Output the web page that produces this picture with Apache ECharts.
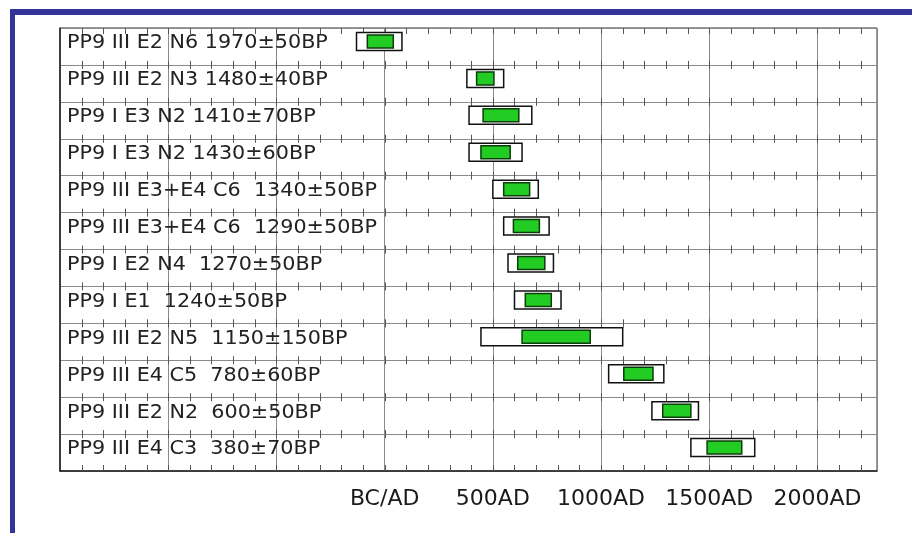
<!DOCTYPE html>
<html>
<head>
<meta charset="utf-8">
<script src="https://cdn.jsdelivr.net/npm/echarts@6/dist/echarts.min.js"></script>
<style>
  html, body { margin: 0; padding: 0; background: #fff; }
  #chart { width: 912px; height: 533px; }
</style>
</head>
<body>
<div id="chart"></div>
<script>
// Sample labels (laboratory context + uncalibrated radiocarbon age)
const samples = [
  'PP9 III E2 N6 1970\u00b150BP',
  'PP9 III E2 N3 1480\u00b140BP',
  'PP9 I E3 N2 1410\u00b170BP',
  'PP9 I E3 N2 1430\u00b160BP',
  'PP9 III E3+E4 C6  1340\u00b150BP',
  'PP9 III E3+E4 C6  1290\u00b150BP',
  'PP9 I E2 N4  1270\u00b150BP',
  'PP9 I E1  1240\u00b150BP',
  'PP9 III E2 N5  1150\u00b1150BP',
  'PP9 III E4 C5  780\u00b160BP',
  'PP9 III E2 N2  600\u00b150BP',
  'PP9 III E4 C3  380\u00b170BP'
];

// Calibrated ranges in calendar years (negative = BC)
const range2Lo = [-130, 380, 390, 390, 500, 550, 570, 600, 445, 1035, 1235, 1415];
const range2Hi = [  80, 550, 680, 635, 710, 760, 780, 815, 1100, 1290, 1450, 1710];
const range1Lo = [ -80, 425, 455, 445, 550, 595, 615, 650, 635, 1105, 1285, 1490];
const range1Hi = [  40, 505, 620, 580, 670, 715, 740, 770, 950, 1240, 1415, 1650];

// Calendar axis
const axisMin = -1500;
const axisMax = 2275;
const majorStep = 500;
const minorStep = 100;

const boxData = samples.map((s, i) => [i, range2Lo[i], range2Hi[i], range1Lo[i], range1Hi[i]]);

function yearLabel(v) {
  if (v === 0) return 'BC/AD';
  if (v > 0 && v % majorStep === 0) return v + 'AD';
  return '';
}

const chart = echarts.init(document.getElementById('chart'), null, { renderer: 'canvas' });

// boxes and labels sit slightly above the middle of each row
const ROW_SHIFT = -5;

chart.setOption({
  animation: false,
  backgroundColor: '#ffffff',
  graphic: [
    { type: 'rect', left: 10, top: 9, shape: { width: 902, height: 6 }, style: { fill: '#333399' }, z: 100 },
    { type: 'rect', left: 10, top: 9, shape: { width: 5, height: 524 }, style: { fill: '#333399' }, z: 100 }
  ],
  grid: {
    left: 60, top: 28, right: 35, bottom: 62,
    show: true, borderColor: '#333', borderWidth: 1
  },
  xAxis: {
    type: 'value',
    min: axisMin,
    max: axisMax,
    interval: majorStep,
    axisLine: { show: true, onZero: false, lineStyle: { color: '#222', width: 1.5 } },
    axisTick: { show: false },
    splitLine: { show: true, lineStyle: { color: '#8a8a8a', width: 1 } },
    axisLabel: {
      formatter: yearLabel,
      color: '#1a1a1a',
      fontFamily: 'DejaVu Sans',
      fontSize: 22,
      margin: 17,
      showMaxLabel: false
    }
  },
  yAxis: {
    type: 'category',
    inverse: true,
    data: samples,
    axisLine: { show: true, onZero: false, lineStyle: { color: '#222', width: 1.5 } },
    axisTick: { show: false },
    splitLine: { show: true, lineStyle: { color: '#8a8a8a', width: 1 } },
    axisLabel: { show: false }
  },
  series: [
    {
      // small 100-year ticks along every row boundary
      type: 'custom',
      silent: true,
      data: [[0]],
      z: 1,
      renderItem: function (params, api) {
        const cs = params.coordSys;
        const rows = samples.length;
        const rowH = cs.height / rows;
        const children = [];
        for (let k = 0; k <= rows; k++) {
          const y = cs.y + k * rowH;
          const up = k === 0 ? 0 : (k === rows ? 6 : 4);
          const down = k === 0 ? 6 : (k === rows ? 0 : 4);
          for (let yr = axisMin + minorStep; yr < axisMax; yr += minorStep) {
            const x = Math.round(api.coord([yr, 0])[0]) + 0.5;
            children.push({
              type: 'line',
              shape: { x1: x, y1: y - up, x2: x, y2: y + down },
              style: { stroke: '#555', lineWidth: 1 }
            });
          }
        }
        return { type: 'group', children: children };
      }
    },
    {
      // sample names, left aligned inside the plot
      type: 'custom',
      silent: true,
      data: samples.map((s, i) => [i]),
      z: 6,
      renderItem: function (params, api) {
        const row = api.value(0);
        const cy = api.coord([0, row])[1] + ROW_SHIFT + 2;
        const x0 = params.coordSys.x + 7;
        return {
          type: 'text',
          x: x0,
          y: cy,
          scaleX: 1.09,
          style: {
            text: samples[row],
            fill: '#222',
            font: '19px "DejaVu Sans"',
            textAlign: 'left',
            textVerticalAlign: 'middle'
          }
        };
      }
    },
    {
      type: 'custom',
      data: boxData,
      z: 5,
      encode: { x: [1, 2], y: 0 },
      renderItem: function (params, api) {
        const row = api.value(0);
        const cy = api.coord([0, row])[1] + ROW_SHIFT;
        const oL = api.coord([api.value(1), row])[0];
        const oR = api.coord([api.value(2), row])[0];
        const iL = api.coord([api.value(3), row])[0];
        const iR = api.coord([api.value(4), row])[0];
        return {
          type: 'group',
          children: [
            {
              type: 'rect',
              shape: { x: oL, y: cy - 9, width: oR - oL, height: 18 },
              style: { fill: '#ffffff', stroke: '#111', lineWidth: 1.5 }
            },
            {
              type: 'rect',
              shape: { x: iL, y: cy - 6.5, width: iR - iL, height: 13 },
              style: { fill: '#22cc22', stroke: '#0b3d0b', lineWidth: 1.5 }
            }
          ]
        };
      }
    }
  ]
});
</script>
</body>
</html>
